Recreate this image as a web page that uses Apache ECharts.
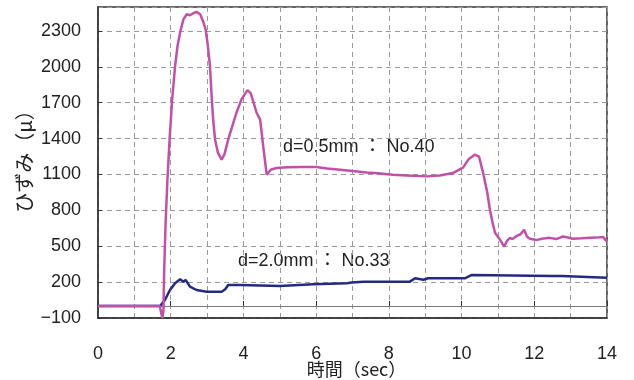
<!DOCTYPE html>
<html>
<head>
<meta charset="utf-8">
<script src="https://cdn.jsdelivr.net/npm/echarts@6/dist/echarts.min.js"></script>
<style>
  html, body { margin: 0; padding: 0; background: #fff; }
  #main { width: 634px; height: 380px; }
</style>
</head>
<body>
<div id="main"></div>
<script>
// d=0.5mm : No.40 (time sec / strain μ)
const time05 = [0, 1.70, 1.74, 1.77, 1.80, 1.82, 1.86, 1.91, 1.97, 2.04, 2.12, 2.19, 2.26, 2.35, 2.44, 2.53, 2.62, 2.71, 2.81, 2.90,
  2.96, 3.02, 3.08, 3.13, 3.17, 3.22, 3.30, 3.40, 3.48, 3.58, 3.70, 3.81, 3.95, 4.11, 4.20, 4.36, 4.46, 4.55, 4.64, 4.75,
  4.91, 5.20, 5.60, 6.01, 6.30, 6.66, 7.00, 7.39, 7.70, 8.11, 8.50, 9.04, 9.40, 9.76, 10.04, 10.20, 10.37, 10.48, 10.59, 10.70,
  10.78, 10.85, 10.92, 11.06, 11.17, 11.25, 11.33, 11.40, 11.52, 11.62, 11.72, 11.80, 11.88, 12.07, 12.25, 12.43, 12.60, 12.79, 12.90, 13.06,
  13.30, 13.53, 13.70, 13.89, 14.00]
const strain05 = [0, 0, -60, -100, -40, 300, 700, 1056, 1400, 1727, 2006, 2180, 2288, 2397, 2439, 2431, 2448, 2459, 2439, 2372,
  2313, 2180, 2006, 1727, 1550, 1391, 1280, 1224, 1270, 1391, 1510, 1618, 1730, 1805, 1780, 1618, 1559, 1320, 1098, 1140,
  1154, 1160, 1162, 1163, 1150, 1140, 1128, 1117, 1110, 1098, 1092, 1084, 1092, 1112, 1157, 1230, 1266, 1250, 1115, 960,
  805, 700, 612, 553, 497, 545, 570, 560, 587, 600, 637, 580, 562, 553, 565, 570, 560, 581, 575, 562,
  566, 570, 572, 578, 539]

// d=2.0mm : No.33
const time20 = [0, 1.71, 1.84, 1.98, 2.12, 2.26, 2.35, 2.41, 2.53, 2.71, 2.99, 3.40, 3.50, 3.58, 3.91, 5.00, 5.92, 6.84, 6.98, 7.30,
  8.58, 8.72, 8.95, 9.08, 10.09, 10.28, 12.50, 12.76, 14.00]
const strain20 = [0, 0, 50, 134, 190, 224, 204, 218, 162, 134, 120, 120, 140, 176, 176, 168, 182, 190, 196, 204,
  204, 232, 220, 232, 232, 260, 251, 251, 237]

const xTicks = [0, 2, 4, 6, 8, 10, 12, 14]

const pairs = (xs, ys) => xs.map((x, i) => [x, ys[i]])

let myChart = echarts.init(document.getElementById('main'))

const gridLine = { color: '#9a9a9a', type: [5, 4], width: 1 }
const tickFont = { fontSize: 18, color: '#222', fontFamily: 'Liberation Sans' }

const option = {
  backgroundColor: '#fff',
  animation: false,
  grid: {
    left: 98, top: 7, right: 27, bottom: 62,
    show: true, borderColor: '#333', borderWidth: 1.5,
    outerBoundsMode: 'none', containLabel: false   // keep the plot box where it is
  },
  xAxis: [
    {
      type: 'value', min: 0, max: 14, interval: 1, position: 'bottom',
      name: '時間（sec）', nameLocation: 'middle', nameGap: 42, nameMoveOverlap: false,
      nameTextStyle: { fontSize: 18, color: '#222', fontFamily: 'Noto Sans CJK JP', padding: [0, 0, 0, 8] },
      axisLine: { show: true, onZero: false, lineStyle: { color: '#333', width: 1.5 } },
      axisTick: { show: false },
      axisLabel: Object.assign({ margin: 27, formatter: v => (xTicks.includes(v) ? String(v) : '') }, tickFont),
      splitLine: { show: true, lineStyle: gridLine }
    },
    {
      // zero line with small inward ticks
      type: 'value', min: 0, max: 14, interval: 2, position: 'bottom',
      axisLine: { show: true, onZero: true, onZeroAxisIndex: 0, lineStyle: { color: '#7a7a7a', width: 1.2 } },
      axisTick: { show: true, inside: true, length: 5, lineStyle: { color: '#333' } },
      axisLabel: { show: false },
      splitLine: { show: false }
    }
  ],
  yAxis: {
    type: 'value', min: -100, max: 2500, interval: 300,
    name: 'ひずみ（μ）', nameLocation: 'middle', nameGap: 64, nameMoveOverlap: false,
    nameTextStyle: { fontSize: 20, color: '#222', fontFamily: 'Noto Sans CJK JP', padding: [0, 0, 0, 12] },
    axisLine: { show: true, lineStyle: { color: '#333', width: 1.5 } },
    axisTick: { show: true, inside: true, length: 4, lineStyle: { color: '#333' } },
    axisLabel: Object.assign({ margin: 17, padding: [5, 0, 0, 0], showMaxLabel: false, formatter: v => String(v).replace('-', '−') }, tickFont),
    splitLine: { show: true, lineStyle: gridLine }
  },
  graphic: [
    { type: 'text', left: 283, top: 138, style: { text: 'd=0.5mm ： No.40', font: '18px "Liberation Sans", "Noto Sans CJK JP"', fill: '#222' } },
    { type: 'text', left: 238, top: 252, style: { text: 'd=2.0mm ： No.33', font: '18px "Liberation Sans", "Noto Sans CJK JP"', fill: '#222' } }
  ],
  series: [
    {
      name: 'd=2.0mm : No.33', type: 'line', xAxisIndex: 0, showSymbol: false,
      lineStyle: { color: '#232a82', width: 2.5 },
      data: pairs(time20, strain20)
    },
    {
      name: 'd=0.5mm : No.40', type: 'line', xAxisIndex: 0, showSymbol: false,
      lineStyle: { color: '#c24fa8', width: 2.5 },
      data: pairs(time05, strain05)
    }
  ]
}
myChart.setOption(option)
</script>
</body>
</html>
